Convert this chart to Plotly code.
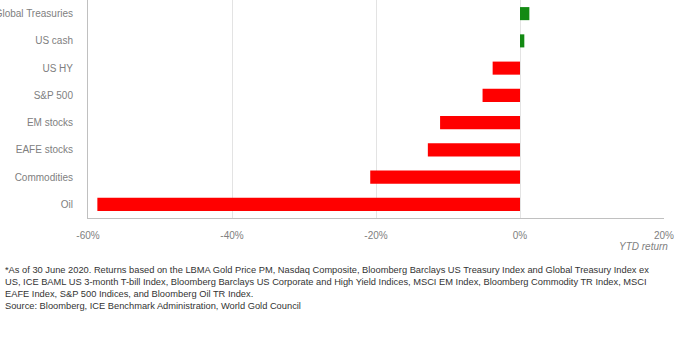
import plotly.graph_objects as go

categories = ["Oil", "Commodities", "EAFE stocks", "EM stocks", "S&P 500", "US HY", "US cash", "Global Treasuries"]
returns = [-58.7, -20.8, -12.8, -11.1, -5.2, -3.8, 0.6, 1.3]
tick_vals = [-60, -40, -20, 0, 20]
tick_text = ["-60%", "-40%", "-20%", "0%", "20%"]

colors = ["#ff0000" if v < 0 else "#138a13" for v in returns]

fig = go.Figure(go.Bar(
    x=returns, y=categories, orientation="h",
    marker=dict(color=colors, line=dict(width=0)),
))

footnote = ("*As of 30 June 2020. Returns based on the LBMA Gold Price PM, Nasdaq Composite, Bloomberg Barclays US Treasury Index and Global Treasury Index ex<br>"
            "US, ICE BAML US 3-month T-bill Index, Bloomberg Barclays US Corporate and High Yield Indices, MSCI EM Index, Bloomberg Commodity TR Index, MSCI<br>"
            "EAFE Index, S&P 500 Indices, and Bloomberg Oil TR Index.<br>"
            "Source: Bloomberg, ICE Benchmark Administration, World Gold Council")

fig.update_layout(
    width=700, height=350,
    margin=dict(l=88, r=36, t=0, b=132, autoexpand=False),
    paper_bgcolor="white", plot_bgcolor="white",
    bargap=0.52,
    showlegend=False,
    font=dict(family="Liberation Sans, Arial, sans-serif", color="#7f7f7f", size=10),
    xaxis=dict(
        range=[-60, 20], tickvals=tick_vals, ticktext=tick_text,
        showgrid=True, gridcolor="#e3e3e3", gridwidth=1,
        zeroline=True, zerolinecolor="#e3e3e3", zerolinewidth=1,
        showline=True, linecolor="#c0c0c0", linewidth=1,
        ticks="", ticklabelstandoff=8, automargin=False,
        tickfont=dict(size=10, color="#808080"),
    ),
    yaxis=dict(
        categoryorder="array", categoryarray=categories,
        range=[-0.5, 7.5],
        showgrid=False, zeroline=False,
        showline=True, linecolor="#c0c0c0", linewidth=1,
        ticks="", ticklabelstandoff=12, automargin=False,
        tickfont=dict(size=10, color="#808080"),
    ),
    annotations=[
        dict(text="<i>YTD return</i>", xref="paper", yref="paper",
             x=(643 - 88) / 576, y=(218 - 246) / 218, xanchor="center", yanchor="middle",
             showarrow=False, font=dict(size=10, color="#808080")),
        dict(text=footnote, xref="paper", yref="paper",
             x=(3 - 88) / 576, y=(218 - 263) / 218, xanchor="left", yanchor="top",
             align="left", showarrow=False,
             font=dict(size=9.3, color="#333333", family="Liberation Sans, Arial, sans-serif")),
    ],
)

fig.write_html("out.html")
